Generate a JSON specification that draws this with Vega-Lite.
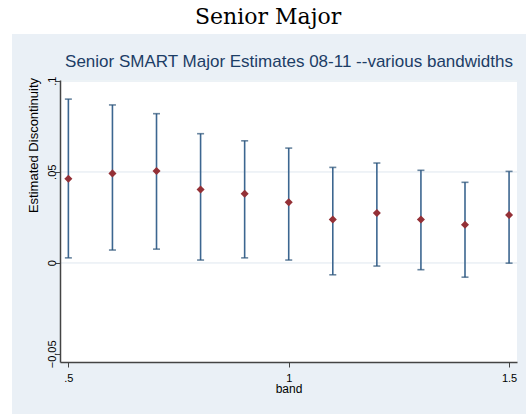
{
  "$schema": "https://vega.github.io/schema/vega-lite/v6.json",
  "width": 457,
  "height": 282,
  "autosize": {"type": "none"},
  "padding": {"left": 60, "top": 80, "right": 9, "bottom": 52},
  "background": "white",
  "title": {
    "text": "Senior Major",
    "font": "DejaVu Serif",
    "fontSize": 22,
    "fontWeight": "normal",
    "color": "black",
    "anchor": "start",
    "frame": "group",
    "dx": 135,
    "offset": 5,
    "zindex": 2
  },
  "config": {
    "view": {"stroke": null, "fill": null},
    "axis": {"labelFont": "Liberation Sans", "titleFont": "Liberation Sans", "labelColor": "black", "titleColor": "black"}
  },
  "data": {
    "values": [
      {"band": 0.5, "est": 0.0462, "lo": 0.0027, "hi": 0.0899},
      {"band": 0.6, "est": 0.0491, "lo": 0.0070, "hi": 0.0867},
      {"band": 0.7, "est": 0.0504, "lo": 0.0075, "hi": 0.0819},
      {"band": 0.8, "est": 0.0403, "lo": 0.0015, "hi": 0.0709},
      {"band": 0.9, "est": 0.0379, "lo": 0.0027, "hi": 0.0670},
      {"band": 1.0, "est": 0.0332, "lo": 0.0015, "hi": 0.0630},
      {"band": 1.1, "est": 0.0238, "lo": -0.0066, "hi": 0.0524},
      {"band": 1.2, "est": 0.0273, "lo": -0.0018, "hi": 0.0548},
      {"band": 1.3, "est": 0.0238, "lo": -0.0038, "hi": 0.0508},
      {"band": 1.4, "est": 0.0209, "lo": -0.0079, "hi": 0.0442},
      {"band": 1.5, "est": 0.0262, "lo": -0.0002, "hi": 0.0502}
    ]
  },
  "layer": [
    {
      "mark": {"type": "rect", "color": "#EAF0F6", "clip": false},
      "encoding": {
        "x": {"datum": 0.372, "type": "quantitative", "scale": {"domain": [0.481, 1.518], "nice": false, "zero": false},
          "axis": {"orient": "top", "zindex": 2, "title": "Senior SMART Major Estimates 08-11 --various bandwidths", "titleFont": "Liberation Sans", "titleFontSize": 17, "titleFontWeight": "normal", "titleColor": "#1C3D66", "titlePadding": 10, "labels": false, "ticks": false, "domain": false, "grid": false}},
        "x2": {"datum": 1.6},
        "y": {"datum": -0.09, "type": "quantitative", "scale": {"domain": [-0.0545, 0.1004], "nice": false, "zero": false},
          "axis": {"orient": "left", "zindex": 2, "values": [-0.05, 0, 0.05, 0.1], "labelExpr": "replace(replace(format(datum.value, '~g'), /^0\\./, '.'), /^-0\\./, '-.')", "labelAngle": -90, "labelAlign": "center", "labelBaseline": "middle", "labelPadding": 3, "labelFontSize": 11, "title": "Estimated Discontinuity", "titleFontSize": 13, "titleFontWeight": "normal", "titleAngle": -90, "titleAlign": "center", "titleBaseline": "middle", "titleX": -27, "titleY": 65, "tickSize": 5, "tickColor": "#444", "domainColor": "#444", "domainWidth": 1.5, "grid": false}},
        "y2": {"datum": 0.1257}
      }
    },
    {
      "mark": {"type": "rect", "color": "white", "clip": false},
      "encoding": {
        "x": {"datum": 0.481, "type": "quantitative"},
        "x2": {"datum": 1.518},
        "y": {"datum": -0.0545, "type": "quantitative"},
        "y2": {"datum": 0.1004}
      }
    },
    {
      "mark": {"type": "rule", "color": "#EEF2F6", "strokeWidth": 1},
      "encoding": {
        "y": {"datum": 0.05, "type": "quantitative"}
      }
    },
    {
      "mark": {"type": "rule", "color": "#EEF2F6", "strokeWidth": 1},
      "encoding": {
        "y": {"datum": 0, "type": "quantitative"}
      }
    },
    {
      "mark": {"type": "rule", "color": "#EEF2F6", "strokeWidth": 1},
      "encoding": {
        "y": {"datum": 0.1, "type": "quantitative"}
      }
    },
    {
      "mark": {"type": "rule", "color": "#3C6690", "strokeWidth": 1.6},
      "encoding": {
        "x": {"field": "band", "type": "quantitative",
          "axis": {"orient": "bottom", "zindex": 2, "values": [0.5, 1, 1.5], "labelExpr": "replace(format(datum.value, '~g'), /^0\\./, '.')", "title": "band", "titleFontSize": 12, "titleFontWeight": "normal", "titlePadding": 0, "labelFontSize": 11, "labelPadding": 5, "tickSize": 5, "tickColor": "#444", "domainColor": "#444", "domainWidth": 1.5, "grid": false, "labelFlush": false}},
        "y": {"field": "lo", "type": "quantitative"},
        "y2": {"field": "hi"}
      }
    },
    {
      "mark": {"type": "tick", "color": "#2B5278", "thickness": 1.6, "size": 7, "orient": "horizontal"},
      "encoding": {
        "x": {"field": "band", "type": "quantitative"},
        "y": {"field": "lo", "type": "quantitative"}
      }
    },
    {
      "mark": {"type": "tick", "color": "#2B5278", "thickness": 1.6, "size": 7, "orient": "horizontal"},
      "encoding": {
        "x": {"field": "band", "type": "quantitative"},
        "y": {"field": "hi", "type": "quantitative"}
      }
    },
    {
      "mark": {"type": "point", "shape": "diamond", "filled": true, "color": "#943036", "size": 65, "opacity": 1},
      "encoding": {
        "x": {"field": "band", "type": "quantitative"},
        "y": {"field": "est", "type": "quantitative"}
      }
    }
  ],
  "resolve": {"axis": {"x": "independent"}}
}
